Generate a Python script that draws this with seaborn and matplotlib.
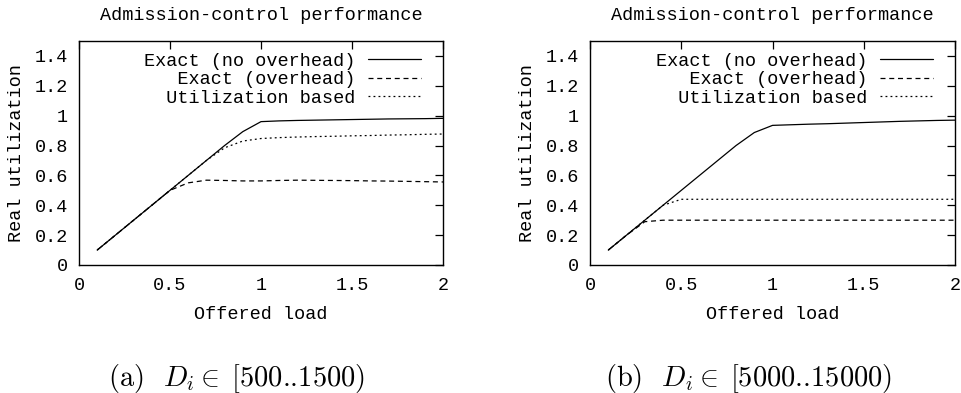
import numpy as np
import pandas as pd
import matplotlib
matplotlib.use("Agg")
import matplotlib.pyplot as plt
import seaborn as sns

# ---- data ----
load = [0.1, 0.2, 0.3, 0.4, 0.5, 0.6, 0.7, 0.8, 0.9, 1.0,
        1.1, 1.2, 1.3, 1.4, 1.5, 1.6, 1.7, 1.8, 1.9, 2.0]

a_exact_noovh = [0.1, 0.2, 0.3, 0.4, 0.5, 0.6, 0.7, 0.8, 0.893, 0.96,
                 0.965, 0.968, 0.97, 0.972, 0.974, 0.976, 0.978, 0.979, 0.98, 0.982]
a_exact_ovh = [0.1, 0.2, 0.3, 0.4, 0.5, 0.55, 0.568, 0.566, 0.563, 0.563,
               0.566, 0.568, 0.567, 0.566, 0.565, 0.563, 0.562, 0.56, 0.558, 0.556]
a_util = [0.1, 0.2, 0.3, 0.4, 0.5, 0.6, 0.7, 0.785, 0.83, 0.847,
          0.853, 0.857, 0.86, 0.862, 0.865, 0.867, 0.87, 0.872, 0.875, 0.877]

b_exact_noovh = [0.1, 0.2, 0.3, 0.4, 0.5, 0.6, 0.7, 0.8, 0.887, 0.935,
                 0.939, 0.943, 0.946, 0.95, 0.954, 0.958, 0.962, 0.965, 0.968, 0.97]
b_exact_ovh = [0.1, 0.2, 0.29, 0.3, 0.3, 0.3, 0.3, 0.3, 0.3, 0.3,
               0.3, 0.3, 0.3, 0.3, 0.3, 0.3, 0.3, 0.3, 0.3, 0.3]
b_util = [0.1, 0.2, 0.3, 0.4, 0.44, 0.44, 0.44, 0.44, 0.44, 0.44,
          0.44, 0.44, 0.44, 0.44, 0.44, 0.44, 0.44, 0.44, 0.44, 0.44]

series_names = ["Exact (no overhead)", "Exact (overhead)", "Utilization based"]
title_text = "Admission-control performance"
xlabel_text = "Offered load"
ylabel_text = "Real utilization"
xticks = [0, 0.5, 1, 1.5, 2]
xtick_labels = ["0", "0.5", "1", "1.5", "2"]
yticks = [0, 0.2, 0.4, 0.6, 0.8, 1.0, 1.2, 1.4]
ytick_labels = ["0", "0.2", "0.4", "0.6", "0.8", "1", "1.2", "1.4"]
captions = [r"(a)  $D_i \in\;$[500..1500)",
            r"(b)  $D_i \in\;$[5000..15000)"]

sns.set_theme(style="white")
plt.rcParams["font.family"] = ["Liberation Mono", "DejaVu Sans Mono"]
plt.rcParams["mathtext.fontset"] = "cm"
plt.rcParams["axes.unicode_minus"] = False

FS = 13.3
fig = plt.figure(figsize=(9.61, 3.93), dpi=100)
axes_pos = [[0.0822, 0.3257, 0.3788, 0.5700],
            [0.6140, 0.3257, 0.3798, 0.5700]]

styles = [dict(linestyle="-"),
          dict(linestyle=(0, (4, 3))),
          dict(linestyle=(0, (1.5, 2.5)))]

width = max(len(s) for s in series_names)
padded = [s.rjust(width) for s in series_names]

panels = [(a_exact_noovh, a_exact_ovh, a_util),
          (b_exact_noovh, b_exact_ovh, b_util)]

for i, (pos, ys) in enumerate(zip(axes_pos, panels)):
    ax = fig.add_axes(pos)
    for name, y, st in zip(padded, ys, styles):
        sns.lineplot(x=load, y=y, ax=ax, color="black", lw=0.9,
                     label=name, **st)
    ax.set_xlim(0, 2)
    ax.set_ylim(0, 1.5)
    ax.set_xticks(xticks)
    ax.set_xticklabels(xtick_labels)
    ax.set_yticks(yticks)
    ax.set_yticklabels(ytick_labels)
    ax.tick_params(direction="in", length=5.8, width=0.9, top=True, right=True,
                   labelsize=FS, colors="black")
    ax.tick_params(axis="x", pad=9)
    ax.tick_params(axis="y", pad=8)
    for sp in ax.spines.values():
        sp.set_visible(True)
        sp.set_color("black")
        sp.set_linewidth(1.0)
    ax.set_xlabel(xlabel_text, fontsize=FS, labelpad=8, color="black")
    ax.set_ylabel(ylabel_text, fontsize=FS, labelpad=7, color="black")
    ax.set_title(title_text, fontsize=FS, pad=15, color="black")
    leg = ax.legend(loc="upper right", bbox_to_anchor=(0.94, 0.947),
                    frameon=False, markerfirst=False,
                    fontsize=FS, handlelength=2.9, handletextpad=0.65,
                    labelspacing=0.08, borderaxespad=0.0, borderpad=0.0)
    for t in leg.get_texts():
        t.set_color("black")

for xpos, cap in zip([108 / 961, 605 / 961], captions):
    fig.text(xpos, 0.018, cap, fontsize=20.5, ha="left", va="baseline",
             color="black", family="cmr10")

fig.savefig("out.png", dpi=100, facecolor="white")
